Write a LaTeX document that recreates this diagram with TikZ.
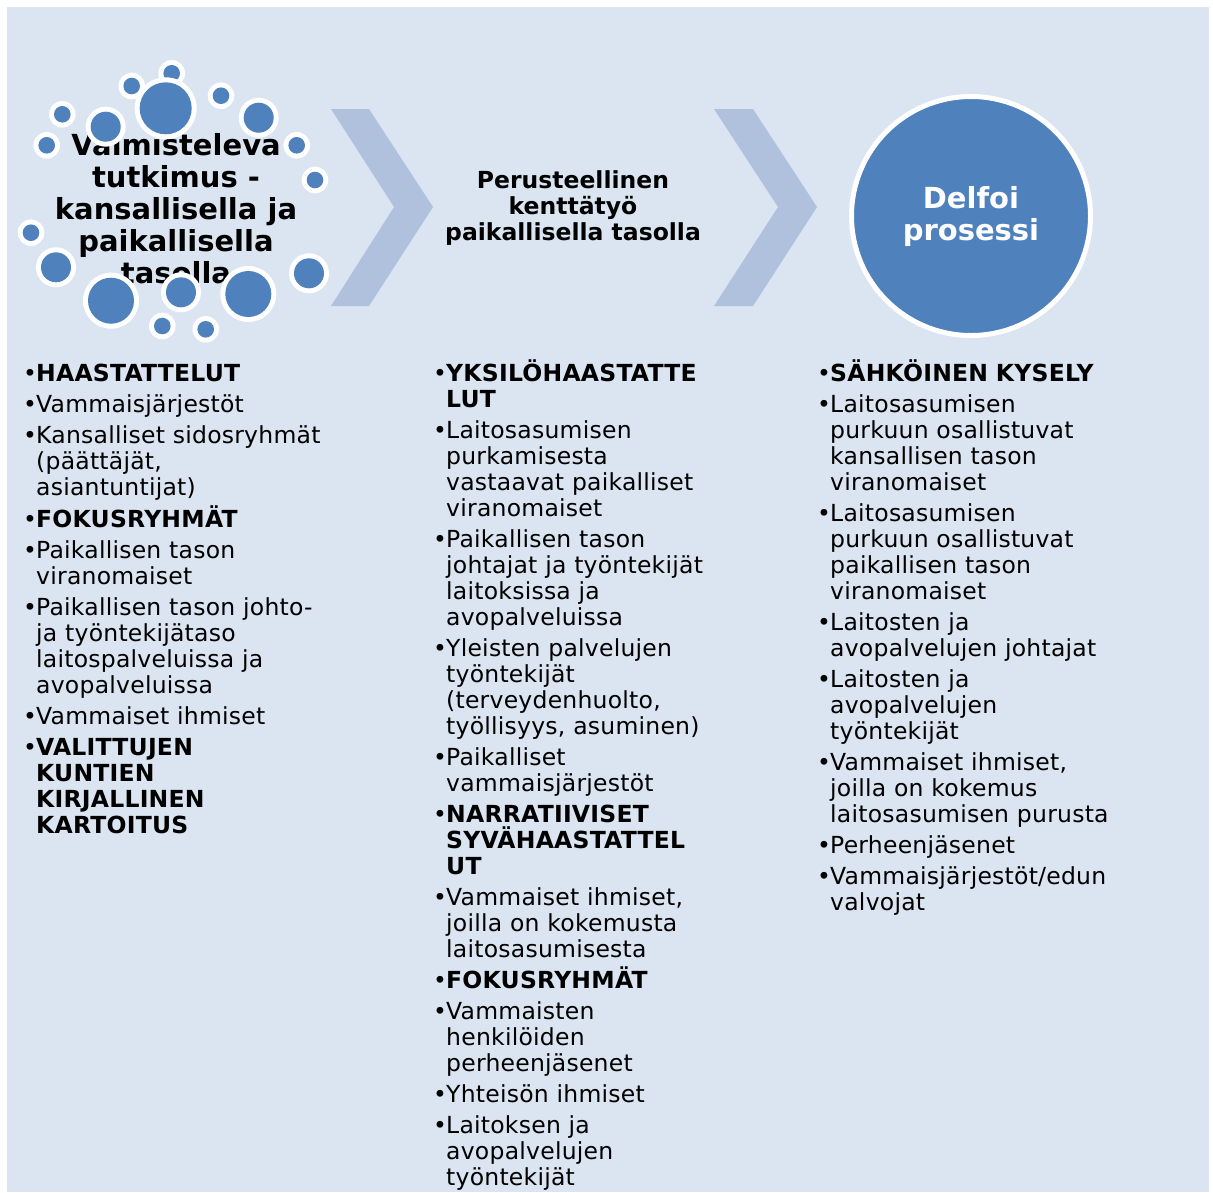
\documentclass[tikz,border=0pt]{standalone}
\usepackage{fontspec}
\setmainfont{DejaVu Sans}
\newfontfamily\listfont{DejaVu Sans}[LetterSpace=1.0]
\definecolor{bg}{HTML}{DBE5F1}
\definecolor{dotblue}{HTML}{4F81BD}
\definecolor{chev}{HTML}{B0C1DD}
\newlength\bw
\setlength\bw{13pt}
\newcommand\itm[1]{\par\hangindent=\bw\hangafter=1\noindent\makebox[\bw][l]{\char"2022}#1}
\tikzset{
  bigtitle/.style={align=center, inner sep=0pt, font=\bfseries\fontsize{29}{32}\selectfont},
  midtitle/.style={align=center, inner sep=0pt, font=\bfseries\fontsize{23.5}{26}\selectfont},
  listcol/.style={anchor=north west, inner sep=0pt, text width=380pt, align=left,
    font=\listfont\fontsize{23.5}{26}\selectfont},
  chevron/.style={fill=chev},
  bubble/.style={fill=dotblue},
  ring/.style={fill=white}
}
\begin{document}
\begin{tikzpicture}[x=1pt,y=-1pt]
\useasboundingbox (0,0) rectangle (1213,1192);
\fill[bg] (7,7) rectangle (1209,1192);
% chevrons
\fill[chevron] (331,109) -- (369,109) -- (433,207) -- (369,306) -- (331,306) -- (394,207) -- cycle;
\fill[chevron] (714,109) -- (753,109) -- (817,207) -- (753,306) -- (714,306) -- (778,207) -- cycle;
% left title
\node[bigtitle] (t1) at (176,209) {Valmisteleva\\tutkimus -\\kansallisella ja\\paikallisella\\tasolla};
% bubbles
\foreach \cx/\cy/\r in {171.7/73.3/8.3, 131.7/86/8.3, 165.7/108.3/26, 221/95.7/8.3,
  258.7/117.7/15, 62.3/114.3/8.3, 105.7/126.7/15, 46.7/145.3/8.3, 296.7/145.3/8.3,
  315/180/8.3, 31/232.7/8.3, 56/267.3/15, 111/300.7/23, 181/292.3/15, 248.3/294/23,
  309/273.3/15, 162.3/326/8.3, 205.7/329.3/8.3}{
  \fill[ring] (\cx,\cy) circle[radius=\r+5];
  \fill[bubble] (\cx,\cy) circle[radius=\r];
}
% middle title
\node[midtitle] (t2) at (573,208) {Perusteellinen\\kenttätyö\\paikallisella tasolla};
% Delfoi circle
\node[circle, fill=dotblue, draw=white, line width=5pt, minimum size=239pt, inner sep=0pt,
  text=white, bigtitle] (t3) at (971,216) {Delfoi\\prosessi};
% lists
\node[listcol] (l1) at (23,350) {\setlength\parskip{5pt}%
\itm{\rule{0pt}{22pt}\textbf{HAASTATTELUT}}
\itm{Vammaisjärjestöt}
\itm{Kansalliset sidosryhmät\newline (päättäjät,\newline asiantuntijat)}
\itm{\textbf{FOKUSRYHMÄT}}
\itm{Paikallisen tason\newline viranomaiset}
\itm{Paikallisen tason johto-\newline ja työntekijätaso\newline laitospalveluissa ja\newline avopalveluissa}
\itm{Vammaiset ihmiset}
\itm{\textbf{VALITTUJEN\newline KUNTIEN\newline KIRJALLINEN\newline KARTOITUS}}\par};
\node[listcol] (l2) at (433,350) {\setlength\parskip{5pt}%
\itm{\rule{0pt}{22pt}\textbf{YKSILÖHAASTATTE\newline LUT}}
\itm{Laitosasumisen\newline purkamisesta\newline vastaavat paikalliset\newline viranomaiset}
\itm{Paikallisen tason\newline johtajat ja työntekijät\newline laitoksissa ja\newline avopalveluissa}
\itm{Yleisten palvelujen\newline työntekijät\newline (terveydenhuolto,\newline työllisyys, asuminen)}
\itm{Paikalliset\newline vammaisjärjestöt}
\itm{\textbf{NARRATIIVISET\newline SYVÄHAASTATTEL\newline UT}}
\itm{Vammaiset ihmiset,\newline joilla on kokemusta\newline laitosasumisesta}
\itm{\textbf{FOKUSRYHMÄT}}
\itm{Vammaisten\newline henkilöiden\newline perheenjäsenet}
\itm{Yhteisön ihmiset}
\itm{Laitoksen ja\newline avopalvelujen\newline työntekijät}\par};
\node[listcol] (l3) at (817,350) {\setlength\parskip{5pt}%
\itm{\rule{0pt}{22pt}\textbf{SÄHKÖINEN KYSELY}}
\itm{Laitosasumisen\newline purkuun osallistuvat\newline kansallisen tason\newline viranomaiset}
\itm{Laitosasumisen\newline purkuun osallistuvat\newline paikallisen tason\newline viranomaiset}
\itm{Laitosten ja\newline avopalvelujen johtajat}
\itm{Laitosten ja\newline avopalvelujen\newline työntekijät}
\itm{Vammaiset ihmiset,\newline joilla on kokemus\newline laitosasumisen purusta}
\itm{Perheenjäsenet}
\itm{Vammaisjärjestöt/edun\newline valvojat}\par};
\end{tikzpicture}
\end{document}
